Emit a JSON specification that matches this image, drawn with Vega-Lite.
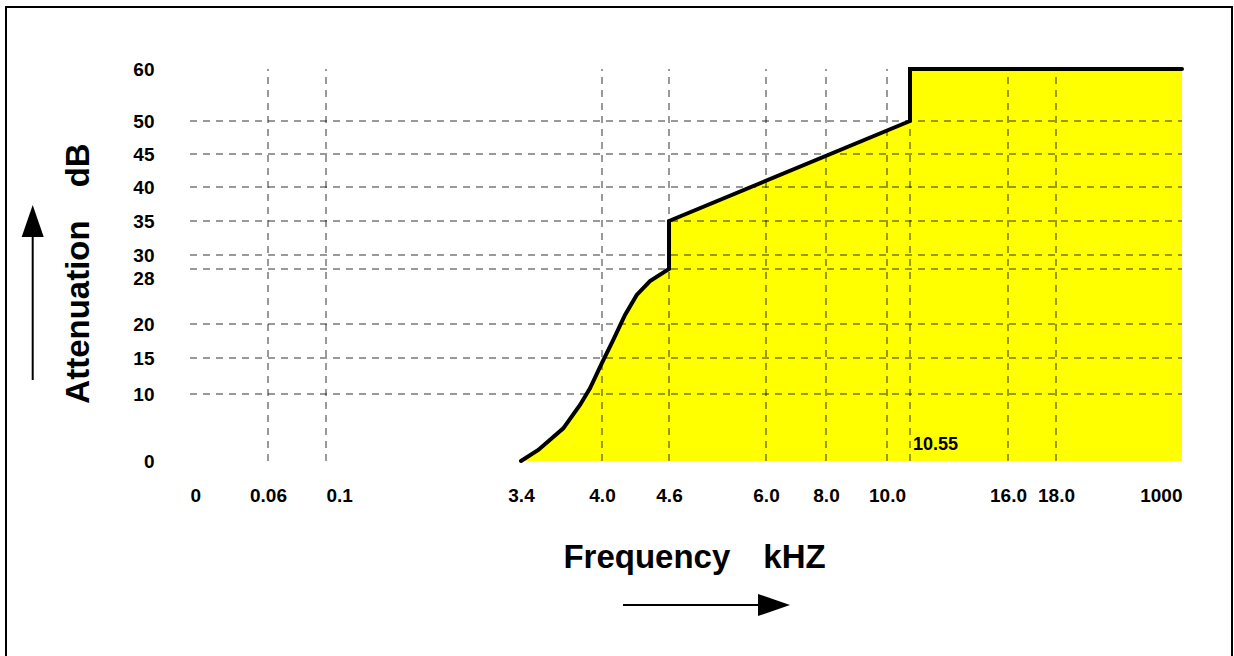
{
  "$schema": "https://vega.github.io/schema/vega-lite/v6.json",
  "width": 1226,
  "height": 649,
  "autosize": {"type": "none"},
  "padding": {"left": 6, "top": 7, "right": 2, "bottom": 0},
  "background": "white",
  "view": {"stroke": "black", "strokeWidth": 2, "strokeDash": [1875, 1226, 700]},
  "config": {
    "font": "Liberation Sans",
    "text": {"font": "Liberation Sans"}
  },
  "datasets": {
    "curve": [
      {"freq": 3.4, "att": 0},
      {"freq": 3.528, "att": 1.64},
      {"freq": 3.713, "att": 4.88},
      {"freq": 3.837, "att": 8.36},
      {"freq": 3.911, "att": 10.79},
      {"freq": 3.998, "att": 14.26},
      {"freq": 4.101, "att": 17.65},
      {"freq": 4.206, "att": 21.31},
      {"freq": 4.311, "att": 24.22},
      {"freq": 4.43, "att": 26.25},
      {"freq": 4.6, "att": 28},
      {"freq": 4.6, "att": 35},
      {"freq": 10.55, "att": 50},
      {"freq": 10.55, "att": 60},
      {"freq": 1000, "att": 60}
    ],
    "xgrid": [
      {"freq": 0.06}, {"freq": 0.1}, {"freq": 4.0}, {"freq": 4.6}, {"freq": 6.0},
      {"freq": 8.0}, {"freq": 10.0}, {"freq": 10.55}, {"freq": 16.0}, {"freq": 18.0}
    ],
    "ygrid": [
      {"att": 10}, {"att": 15}, {"att": 20}, {"att": 28}, {"att": 30},
      {"att": 35}, {"att": 40}, {"att": 45}, {"att": 50}
    ],
    "notes": [
      {"freq": 10.55, "att": 0, "label": "10.55"}
    ],
    "arrowLines": [
      {"freq": -0.121, "freq2": -0.121, "att": 11.94, "att2": 35},
      {"freq": 4.188, "freq2": 6.267, "att": -21.49, "att2": -21.49}
    ],
    "headUp": [{"freq": -0.121, "att": 35}],
    "headRight": [{"freq": 6.267, "att": -21.49}]
  },
  "layer": [
    {
      "data": {"name": "curve"},
      "mark": {"type": "area", "color": "#ffff00", "opacity": 1},
      "encoding": {
        "x": {
          "field": "freq",
          "type": "quantitative",
          "scale": {
            "domain": [0, 0.06, 0.1, 3.4, 4.0, 4.6, 6.0, 8.0, 10.0, 10.55, 16.0, 18.0, 1000],
            "range": [184, 262, 320, 515, 596, 663, 760, 820, 881, 904, 1002, 1050, 1176],
            "zero": false,
            "nice": false
          },
          "axis": {
            "orient": "bottom",
            "offset": -194,
            "values": [0, 0.06, 0.1, 3.4, 4.0, 4.6, 6.0, 8.0, 10.0, 16.0, 18.0, 1000],
            "labelExpr": "datum.value == 0 || datum.value == 1000 ? format(datum.value, 'd') : datum.value < 0.2 ? format(datum.value, '~g') : format(datum.value, '.1f')",
            "labelAlign": {
              "condition": [
                {"test": "datum.value == 1000", "value": "right"},
                {"test": "datum.value == 0 || datum.value == 0.1", "value": "left"}
              ],
              "value": "center"
            },
            "labelFont": "Liberation Sans",
            "labelFontWeight": "bold",
            "labelFontSize": 19,
            "labelColor": "black",
            "labelBaseline": "alphabetic",
            "labelPadding": 39,
            "labelOverlap": false,
            "labelFlush": false,
            "domain": false,
            "ticks": false,
            "tickSize": 0,
            "grid": false,
            "title": "Frequency\u2002\u2002kHZ",
            "titleFont": "Liberation Sans",
            "titleFontWeight": "bold",
            "titleFontSize": 33,
            "titleColor": "black",
            "titleBaseline": "alphabetic",
            "titleAlign": "center",
            "titleX": 688,
            "titleY": 105
          }
        },
        "y": {
          "field": "att",
          "type": "quantitative",
          "scale": {
            "domain": [0, 10, 15, 20, 28, 30, 35, 40, 45, 50, 60],
            "range": [454, 387, 351, 317, 262, 248, 214, 180, 147, 114, 62],
            "zero": false,
            "nice": false
          },
          "axis": {
            "orient": "left",
            "offset": -148,
            "values": [0, 10, 15, 20, 28, 30, 35, 40, 45, 50, 60],
            "labelFont": "Liberation Sans",
            "labelFontWeight": "bold",
            "labelFontSize": 19,
            "labelColor": "black",
            "labelPadding": 0,
            "labelBaseline": {
              "condition": {"test": "datum.value == 28", "value": "top"},
              "value": "middle"
            },
            "labelOverlap": false,
            "labelFlush": false,
            "domain": false,
            "ticks": false,
            "tickSize": 0,
            "grid": false,
            "title": "Attenuation\u2002\u2002dB",
            "titleFont": "Liberation Sans",
            "titleFontWeight": "bold",
            "titleFontSize": 33,
            "titleColor": "black",
            "titleAngle": -90,
            "titleBaseline": "alphabetic",
            "titleAlign": "center",
            "titleX": -66,
            "titleY": 266
          }
        },
        "y2": {"datum": 0}
      }
    },
    {
      "data": {"name": "xgrid"},
      "mark": {"type": "rule", "color": "black", "strokeWidth": 1, "strokeDash": [7, 6], "opacity": 0.8},
      "encoding": {
        "x": {"field": "freq", "type": "quantitative"},
        "y": {"datum": 0},
        "y2": {"datum": 60}
      }
    },
    {
      "data": {"name": "ygrid"},
      "mark": {"type": "rule", "color": "black", "strokeWidth": 1, "strokeDash": [7, 6], "opacity": 0.8},
      "encoding": {
        "y": {"field": "att", "type": "quantitative"},
        "x": {"datum": 0},
        "x2": {"datum": 1000}
      }
    },
    {
      "data": {"name": "curve"},
      "mark": {"type": "line", "color": "black", "strokeWidth": 4, "strokeCap": "round", "strokeJoin": "miter"},
      "encoding": {
        "x": {"field": "freq", "type": "quantitative"},
        "y": {"field": "att", "type": "quantitative"}
      }
    },
    {
      "data": {"name": "notes"},
      "mark": {"type": "text", "align": "left", "baseline": "alphabetic", "dx": 3, "dy": -11, "fontSize": 18, "fontWeight": "bold", "font": "Liberation Sans", "color": "black"},
      "encoding": {
        "x": {"field": "freq", "type": "quantitative"},
        "y": {"field": "att", "type": "quantitative"},
        "text": {"field": "label"}
      }
    },
    {
      "data": {"name": "arrowLines"},
      "mark": {"type": "rule", "color": "black", "strokeWidth": 2},
      "encoding": {
        "x": {"field": "freq", "type": "quantitative"},
        "x2": {"field": "freq2"},
        "y": {"field": "att", "type": "quantitative"},
        "y2": {"field": "att2"}
      }
    },
    {
      "data": {"name": "headUp"},
      "mark": {"type": "point", "shape": "M0,-1L0.69,1L-0.69,1Z", "size": 1024, "filled": true, "color": "black", "opacity": 1},
      "encoding": {
        "x": {"field": "freq", "type": "quantitative"},
        "y": {"field": "att", "type": "quantitative"}
      }
    },
    {
      "data": {"name": "headRight"},
      "mark": {"type": "point", "shape": "M1,0L-1,-0.69L-1,0.69Z", "size": 1024, "filled": true, "color": "black", "opacity": 1},
      "encoding": {
        "x": {"field": "freq", "type": "quantitative"},
        "y": {"field": "att", "type": "quantitative"}
      }
    }
  ]
}
